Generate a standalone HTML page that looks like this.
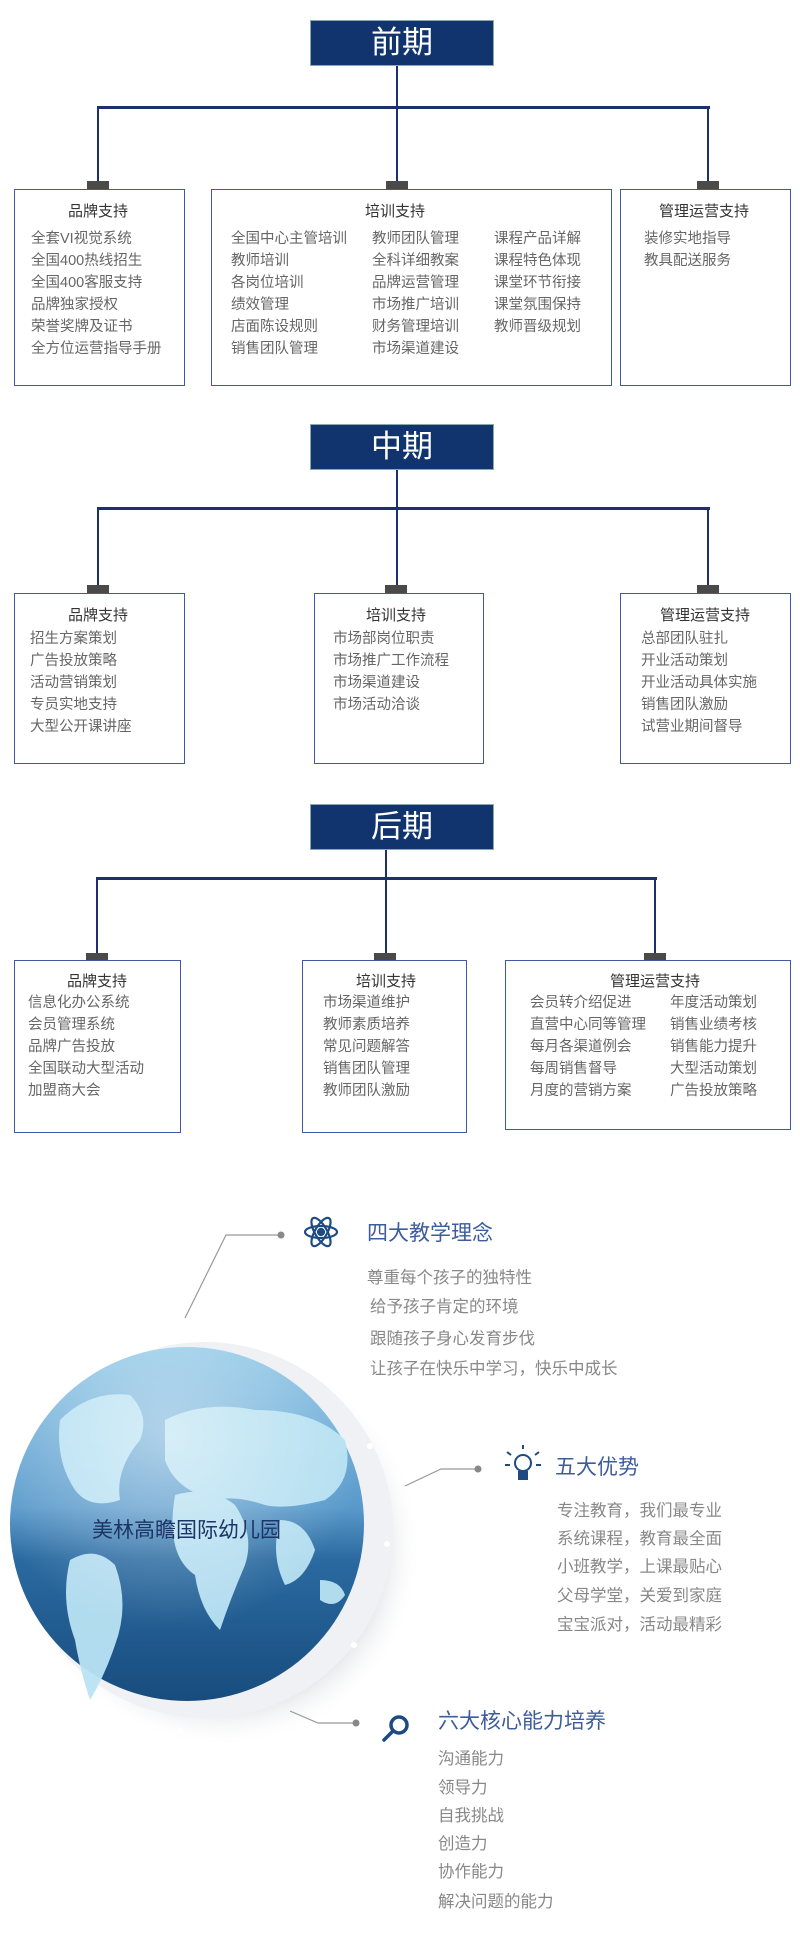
<!DOCTYPE html>
<html><head><meta charset="utf-8"><style>
*{margin:0;padding:0;box-sizing:border-box}
body{width:800px;height:1940px;background:#fff;position:relative;overflow:hidden;font-family:"Liberation Sans","Noto Sans CJK SC",sans-serif}
.a{position:absolute}
.tb{position:absolute;background:#11346f;border:1px solid #8aa;color:#fff;font-size:31px;text-align:center;line-height:44px}
.ln{position:absolute;background:#1c2f6e}
.cn{position:absolute;background:#4a4a4a;width:22px;height:8px}
.bx{position:absolute;border:1.5px solid #4058a8;background:#fff}
.tt{position:absolute;font-size:15px;color:#333;white-space:nowrap;transform:translateX(-50%);line-height:18px}
.it{position:absolute;font-size:14.5px;color:#666;line-height:22px;white-space:nowrap}
.h{position:absolute;font-size:21px;color:#3d5c9c;white-space:nowrap;line-height:26px}
.p{position:absolute;font-size:16.5px;color:#888;white-space:nowrap}
</style></head><body>

<!-- 前期 -->
<div class="tb" style="left:310px;top:20px;width:184px;height:46px">前期</div>
<div class="ln" style="left:396px;top:66px;width:2px;height:120px"></div>
<div class="ln" style="left:98px;top:106px;width:612px;height:3px"></div>
<div class="ln" style="left:97px;top:106px;width:2px;height:80px"></div>
<div class="ln" style="left:707px;top:106px;width:2px;height:80px"></div>
<div class="cn" style="left:87px;top:181px"></div>
<div class="cn" style="left:386px;top:181px"></div>
<div class="cn" style="left:697px;top:181px"></div>
<div class="bx" style="left:14px;top:189px;width:171px;height:197px"></div>
<div class="bx" style="left:211px;top:189px;width:401px;height:197px"></div>
<div class="bx" style="left:620px;top:189px;width:171px;height:197px"></div>
<div class="tt" style="left:98px;top:203px">品牌支持</div>
<div class="tt" style="left:395px;top:203px">培训支持</div>
<div class="tt" style="left:704px;top:203px">管理运营支持</div>
<div class="it" style="left:31px;top:228px">全套VI视觉系统<br>全国400热线招生<br>全国400客服支持<br>品牌独家授权<br>荣誉奖牌及证书<br>全方位运营指导手册</div>
<div class="it" style="left:231px;top:228px">全国中心主管培训<br>教师培训<br>各岗位培训<br>绩效管理<br>店面陈设规则<br>销售团队管理</div>
<div class="it" style="left:372px;top:228px">教师团队管理<br>全科详细教案<br>品牌运营管理<br>市场推广培训<br>财务管理培训<br>市场渠道建设</div>
<div class="it" style="left:494px;top:228px">课程产品详解<br>课程特色体现<br>课堂环节衔接<br>课堂氛围保持<br>教师晋级规划</div>
<div class="it" style="left:644px;top:228px">装修实地指导<br>教具配送服务</div>

<!-- 中期 -->
<div class="tb" style="left:310px;top:424px;width:184px;height:46px">中期</div>
<div class="ln" style="left:396px;top:470px;width:2px;height:118px"></div>
<div class="ln" style="left:98px;top:507px;width:612px;height:3px"></div>
<div class="ln" style="left:97px;top:507px;width:2px;height:80px"></div>
<div class="ln" style="left:707px;top:507px;width:2px;height:80px"></div>
<div class="cn" style="left:87px;top:585px"></div>
<div class="cn" style="left:385px;top:585px"></div>
<div class="cn" style="left:697px;top:585px"></div>
<div class="bx" style="left:14px;top:593px;width:171px;height:171px"></div>
<div class="bx" style="left:314px;top:593px;width:170px;height:171px"></div>
<div class="bx" style="left:620px;top:593px;width:171px;height:171px"></div>
<div class="tt" style="left:98px;top:607px">品牌支持</div>
<div class="tt" style="left:396px;top:607px">培训支持</div>
<div class="tt" style="left:705px;top:607px">管理运营支持</div>
<div class="it" style="left:30px;top:628px">招生方案策划<br>广告投放策略<br>活动营销策划<br>专员实地支持<br>大型公开课讲座</div>
<div class="it" style="left:333px;top:628px">市场部岗位职责<br>市场推广工作流程<br>市场渠道建设<br>市场活动洽谈</div>
<div class="it" style="left:641px;top:628px">总部团队驻扎<br>开业活动策划<br>开业活动具体实施<br>销售团队激励<br>试营业期间督导</div>

<!-- 后期 -->
<div class="tb" style="left:310px;top:804px;width:184px;height:46px">后期</div>
<div class="ln" style="left:385px;top:850px;width:2px;height:104px"></div>
<div class="ln" style="left:97px;top:877px;width:560px;height:3px"></div>
<div class="ln" style="left:96px;top:877px;width:2px;height:78px"></div>
<div class="ln" style="left:654px;top:877px;width:2px;height:78px"></div>
<div class="cn" style="left:86px;top:953px"></div>
<div class="cn" style="left:374px;top:953px"></div>
<div class="cn" style="left:644px;top:953px"></div>
<div class="bx" style="left:14px;top:960px;width:167px;height:173px"></div>
<div class="bx" style="left:302px;top:960px;width:165px;height:173px"></div>
<div class="bx" style="left:505px;top:960px;width:286px;height:170px"></div>
<div class="tt" style="left:97px;top:973px">品牌支持</div>
<div class="tt" style="left:386px;top:973px">培训支持</div>
<div class="tt" style="left:655px;top:973px">管理运营支持</div>
<div class="it" style="left:28px;top:992px">信息化办公系统<br>会员管理系统<br>品牌广告投放<br>全国联动大型活动<br>加盟商大会</div>
<div class="it" style="left:323px;top:992px">市场渠道维护<br>教师素质培养<br>常见问题解答<br>销售团队管理<br>教师团队激励</div>
<div class="it" style="left:530px;top:992px">会员转介绍促进<br>直营中心同等管理<br>每月各渠道例会<br>每周销售督导<br>月度的营销方案</div>
<div class="it" style="left:670px;top:992px">年度活动策划<br>销售业绩考核<br>销售能力提升<br>大型活动策划<br>广告投放策略</div>

<!-- Globe section -->
<svg class="a" style="left:0;top:1150px" width="800" height="790" viewBox="0 1150 800 790">
<defs>
<radialGradient id="sh" cx="0.5" cy="0.5" r="0.5"><stop offset="0.8" stop-color="#e4e6ea"/><stop offset="1" stop-color="#fff" stop-opacity="0"/></radialGradient>
<linearGradient id="oc" x1="0" y1="0" x2="0" y2="1"><stop offset="0" stop-color="#8cc6e6"/><stop offset="0.45" stop-color="#5a9acb"/><stop offset="0.6" stop-color="#2a6aa0"/><stop offset="1" stop-color="#184c7e"/></linearGradient>
<radialGradient id="hl" cx="0.45" cy="0.25" r="0.55"><stop offset="0" stop-color="#fff" stop-opacity="0.45"/><stop offset="1" stop-color="#fff" stop-opacity="0"/></radialGradient>
</defs>
<circle cx="222" cy="1548" r="200" fill="url(#sh)"/>
<circle cx="205" cy="1530" r="188" fill="#f0f1f4"/>
<circle cx="187" cy="1524" r="177" fill="url(#oc)"/>
<g fill="#b9e3f3" opacity="0.95">
<path d="M60 1420 q30-30 70-25 q20 20 10 45 q-25 30-20 60 q-30 10-45-10 q-20-30-15-70z"/>
<path d="M70 1560 q25-15 45 5 q15 40 0 80 q-10 30-25 55 q-10-30-15-60 q-15-40-5-80z"/>
<path d="M165 1420 q40-20 90-10 q60 0 90 30 q10 40-20 60 q-40 10-60 5 q-30-10-50-5 q-40-10-50-40z"/>
<path d="M175 1495 q35-10 60 10 q20 30 10 60 q-15 35-25 65 q-20-20-25-55 q-30-20-20-80z"/>
<path d="M280 1520 q25 0 35 30 q-10 30-30 35 q-15-30-5-65z"/>
<path d="M320 1580 q20 0 25 15 q-10 15-25 5z"/>
</g>
<circle cx="187" cy="1524" r="177" fill="url(#hl)"/>
<g fill="#fff"><circle cx="370" cy="1446" r="3"/><circle cx="387" cy="1544" r="3"/><circle cx="354" cy="1645" r="3"/><circle cx="180" cy="1731" r="3"/></g>
<g stroke="#999" stroke-width="1.2" fill="none">
<polyline points="185,1318 226,1235 281,1235"/>
<polyline points="405,1486 441,1469 478,1469"/>
<polyline points="290,1711 318,1723 356,1723"/>
</g>
<g fill="#888"><circle cx="281" cy="1235" r="3.5"/><circle cx="478" cy="1469" r="3.5"/><circle cx="356" cy="1723" r="3.5"/></g>
<g stroke="#1e4a82" stroke-width="2.2" fill="none" transform="translate(321,1232)">
<ellipse rx="16" ry="6"/><ellipse rx="16" ry="6" transform="rotate(60)"/><ellipse rx="16" ry="6" transform="rotate(-60)"/>
<circle r="3" fill="#1e4a82"/></g>
<g stroke="#1e4a82" stroke-width="2" fill="none" transform="translate(523,1465)">
<circle cy="-2" r="8"/><rect x="-4" y="7" width="8" height="7" fill="#1e4a82"/>
<line x1="0" y1="-16" x2="0" y2="-20"/><line x1="-12" y1="-10" x2="-16" y2="-13"/><line x1="12" y1="-10" x2="16" y2="-13"/>
<line x1="-13" y1="0" x2="-18" y2="0"/><line x1="13" y1="0" x2="18" y2="0"/></g>
<circle cx="394" cy="1730" r="20" fill="#fff"/>
<g stroke="#1e4a82" stroke-width="3.5" fill="none"><circle cx="399" cy="1725" r="8"/><line x1="393" y1="1731" x2="384" y2="1740" stroke-linecap="round"/></g>
</svg>

<div class="a" style="left:92px;top:1514px;font-size:21px;color:#1b3566;white-space:nowrap">美林高瞻国际幼儿园</div>

<div class="h" style="left:367px;top:1221px">四大教学理念</div>
<div class="p" style="left:367px;top:1264px">尊重每个孩子的独特性</div>
<div class="p" style="left:370px;top:1293px">给予孩子肯定的环境</div>
<div class="p" style="left:370px;top:1325px">跟随孩子身心发育步伐</div>
<div class="p" style="left:370px;top:1355px">让孩子在快乐中学习，快乐中成长</div>

<div class="h" style="left:555px;top:1455px">五大优势</div>
<div class="p" style="left:557px;top:1497px">专注教育，我们最专业</div>
<div class="p" style="left:557px;top:1525px">系统课程，教育最全面</div>
<div class="p" style="left:557px;top:1553px">小班教学，上课最贴心</div>
<div class="p" style="left:557px;top:1582px">父母学堂，关爱到家庭</div>
<div class="p" style="left:557px;top:1611px">宝宝派对，活动最精彩</div>

<div class="h" style="left:438px;top:1709px">六大核心能力培养</div>
<div class="p" style="left:438px;top:1745px">沟通能力</div>
<div class="p" style="left:438px;top:1774px">领导力</div>
<div class="p" style="left:438px;top:1802px">自我挑战</div>
<div class="p" style="left:438px;top:1830px">创造力</div>
<div class="p" style="left:438px;top:1858px">协作能力</div>
<div class="p" style="left:438px;top:1888px">解决问题的能力</div>
</body></html>
